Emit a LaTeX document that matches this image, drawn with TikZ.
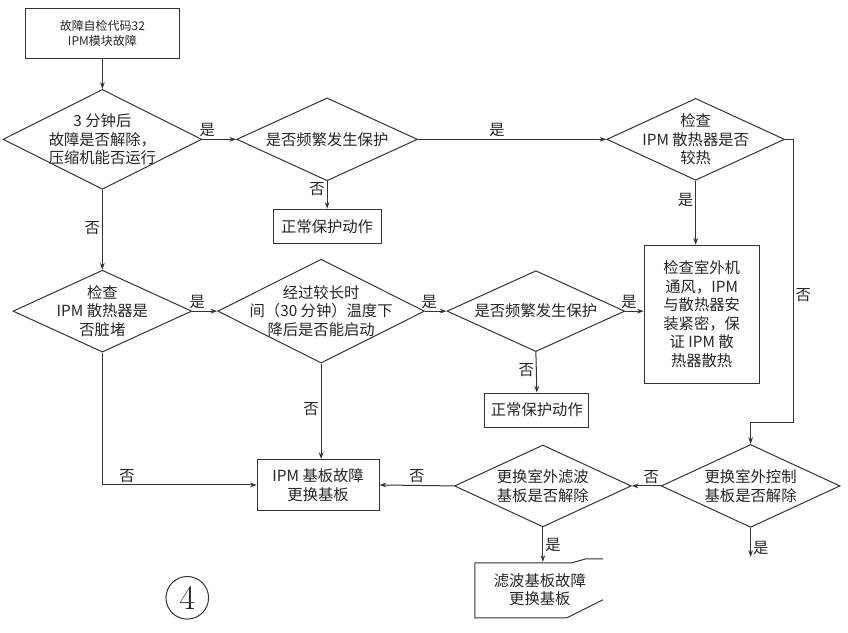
\documentclass[tikz,border=0pt]{standalone}
\usepackage{fontspec}
\newfontfamily\cjk{Noto Sans CJK SC}
\usetikzlibrary{shapes.geometric,arrows.meta}
\begin{document}
\begin{tikzpicture}[x=0.75pt,y=-0.75pt,line width=0.75pt,
  every path/.style={draw=black!80},
  txt/.style={font=\cjk\fontsize{11.5}{14}\selectfont, align=center, text=black!85},
  small/.style={font=\cjk\fontsize{9}{11}\selectfont, align=center, text=black!85},
  dia/.style={diamond, draw=black!80, inner sep=0pt},
  box/.style={rectangle, draw=black!80, inner sep=2pt, txt},
  arr/.style={-{Stealth[length=5pt,width=3.5pt]}},
  lab/.style={txt, inner sep=1.5pt}]
\useasboundingbox (0,0) rectangle (848,632);
\fill[white] (0,0) rectangle (848,632);

% nodes
\node[box, small, minimum width=115.5pt, minimum height=37.5pt] (s) at (102,33) {故障自检代码32\\IPM模块故障};
\node[dia, minimum width=149.25pt, minimum height=75pt, label={[txt]center:{3 分钟后\\故障是否解除，\\压缩机能否运行}}] (d1) at (102,139) {};
\node[dia, minimum width=135.75pt, minimum height=62.25pt, label={[txt]center:{是否频繁发生保护}}] (d2) at (327,139) {};
\node[box, minimum width=81pt, minimum height=25.5pt] (n1) at (327,226) {正常保护动作};
\node[dia, minimum width=133.5pt, minimum height=61.5pt, label={[txt]center:{检查\\IPM 散热器是否\\较热}}] (d3) at (696,139) {};
\node[box, minimum width=86.25pt, minimum height=103.5pt] (b6) at (702,314) {检查室外机\\通风，IPM\\与散热器安\\装紧密，保\\证 IPM 散\\热器散热};
\node[dia, minimum width=134.25pt, minimum height=61.5pt, label={[txt]center:{检查\\IPM 散热器是\\否脏堵}}] (d4) at (102,311) {};
\node[dia, minimum width=155.25pt, minimum height=78pt, label={[txt]center:{经过较长时\\间（30 分钟）温度下\\降后是否能启动}}] (d5) at (321,311) {};
\node[dia, minimum width=133.5pt, minimum height=60.75pt, label={[txt]center:{是否频繁发生保护}}] (d6) at (536,311) {};
\node[box, minimum width=78pt, minimum height=25.5pt] (n2) at (537,410) {正常保护动作};
\node[box, minimum width=91.5pt, minimum height=38.25pt] (b11) at (318,485) {IPM 基板故障\\更换基板};
\node[dia, minimum width=132.75pt, minimum height=61.5pt, label={[txt]center:{更换室外滤波\\基板是否解除}}] (d7) at (543,486) {};
\node[dia, minimum width=134.25pt, minimum height=62.25pt, label={[txt]center:{更换室外控制\\基板是否解除}}] (d8) at (751,486) {};
\node[txt, minimum height=41.25pt, inner sep=0pt] (b14) at (540,590) {滤波基板故障\\更换基板};
\draw (603,559) -- (586,559) -- (572,563) -- (475,563) -- (475,618) -- (567,618) -- (603,600);
\node[draw=black!80, circle, minimum size=32pt, inner sep=0pt, font=\fontsize{26}{26}\selectfont, text=black!85] (c4) at (187,598) {4};
\coordinate (e) at (751,557);

% connectors
\draw[arr] (s.south) -- (d1.north);
\draw[arr] (d1.east) -- node[lab,above,pos=0.15]{是} (d2.west);
\draw[arr] (d2.east) -- node[lab,above,pos=0.42]{是} (d3.west);
\draw[arr] (d2.south) -- node[lab,left,pos=0.3]{否} (n1.north);
\draw[arr] (d3.south) -- node[lab,left,pos=0.3]{是} (d3.south |- b6.north);
\draw[arr] (d3.east) -- ++(8,0) -- node[lab,right,pos=0.55]{否} ++(0,283) -| (d8.north);
\draw[arr] (d1.south) -- node[lab,left,pos=0.48]{否} (d4.north);
\draw[arr] (d4.east) -- node[lab,above,pos=0.2]{是} (d5.west);
\draw[arr] (d5.east) -- node[lab,above,pos=0.2]{是} (d6.west);
\draw[arr] (d6.east) -- node[lab,above,pos=0.2]{是} (d6.east -| b6.west);
\draw[arr] (d6.south) -- node[lab,left,pos=0.45]{否} (n2.north);
\draw[arr] (d5.south) -- node[lab,left,pos=0.48]{否} (d5.south |- b11.north);
\draw[arr] (d4.south) |- node[lab,above,pos=0.58]{否} (b11.west);
\draw[arr] (d7.west) -- node[lab,above,pos=0.5]{否} (b11.east);
\draw[arr] (d8.west) -- node[lab,above,pos=0.33]{否} (d7.east);
\draw[arr] (d8.south) -- node[lab,right,pos=0.7]{是} (e);
\draw[arr] (d7.south) -- node[lab,right,pos=0.5]{是} (d7.south |- b14.north);
\end{tikzpicture}
\end{document}
